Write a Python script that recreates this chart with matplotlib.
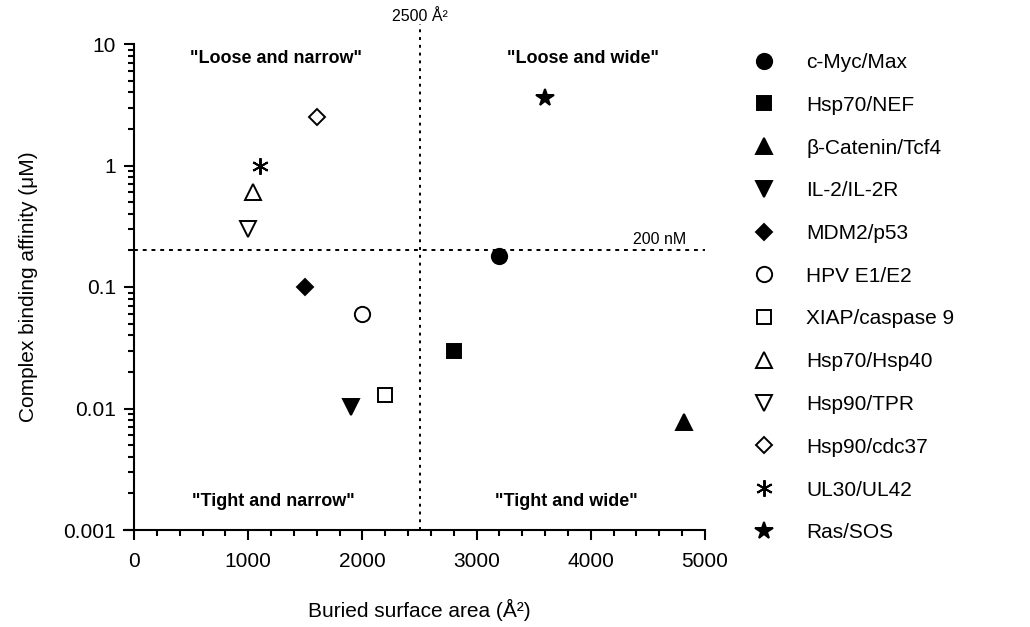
import matplotlib
matplotlib.use("Agg")
import matplotlib.pyplot as plt
from matplotlib.ticker import FixedLocator, FixedFormatter, LogLocator, MultipleLocator, NullFormatter

plt.rcParams['font.family'] = ['Liberation Sans', 'DejaVu Sans']

complexes = ["c-Myc/Max", "Hsp70/NEF", "β-Catenin/Tcf4", "IL-2/IL-2R", "MDM2/p53",
             "HPV E1/E2", "XIAP/caspase 9", "Hsp70/Hsp40", "Hsp90/TPR",
             "Hsp90/cdc37", "UL30/UL42", "Ras/SOS"]
surface_area = [3200, 2800, 4820, 1900, 1500, 2000, 2200, 1040, 1000, 1600, 1100, 3600]
affinity = [0.18, 0.03, 0.0078, 0.0102, 0.1, 0.06, 0.013, 0.6, 0.3, 2.5, 1.0, 3.6]

area_cutoff = 2500
affinity_cutoff = 0.2
y_ticks = [0.001, 0.01, 0.1, 1, 10]
y_tick_labels = ["0.001", "0.01", "0.1", "1", "10"]
quadrants = ['"Loose and narrow"', '"Loose and wide"', '"Tight and narrow"', '"Tight and wide"']

# marker style per complex: (marker, size, filled)
styles = [("o", 11, True), ("s", 10, True), ("^", 11, True), ("v", 11, True),
          ("D", 8.5, True), ("o", 11, False), ("s", 10, False), ("^", 11, False),
          ("v", 11, False), ("D", 8.5, False), ((6, 2, 0), 12, True), ("*", 13, True)]

fig = plt.figure(figsize=(10.3, 6.27), dpi=100)
ax = fig.add_axes([134 / 1030, 1 - 530 / 627, 571 / 1030, 486 / 627])

for name, x, y, (m, ms, filled) in zip(complexes, surface_area, affinity, styles):
    ax.plot([x], [y], linestyle="none", marker=m, markersize=ms,
            markerfacecolor="black" if filled else "white",
            markeredgecolor="black", markeredgewidth=1.4, label=name,
            clip_on=False, zorder=3)

ax.set_yscale("log")
ax.set_xlim(0, 5000)
ax.set_ylim(0.001, 10)

# threshold lines
ax.plot([area_cutoff, area_cutoff], [0.001, 14.5], linestyle=(0, (1.5, 2.5)),
        color="black", linewidth=1.4, clip_on=False)
ax.plot([0, 5000], [affinity_cutoff, affinity_cutoff], linestyle=(0, (2, 2.5)),
        color="black", linewidth=1.4)
ax.text(area_cutoff, 14.6, "2500 Å²", ha="center", va="bottom", fontsize=11.5)
ax.text(4600, affinity_cutoff * 1.06, "200 nM", ha="center", va="bottom", fontsize=11.5)

ax.text(0.249, 0.971, quadrants[0], transform=ax.transAxes, ha="center", va="center",
        fontsize=13, fontweight="bold")
ax.text(0.786, 0.971, quadrants[1], transform=ax.transAxes, ha="center", va="center",
        fontsize=13, fontweight="bold")
ax.text(0.244, 0.058, quadrants[2], transform=ax.transAxes, ha="center", va="center",
        fontsize=13, fontweight="bold")
ax.text(0.758, 0.058, quadrants[3], transform=ax.transAxes, ha="center", va="center",
        fontsize=13, fontweight="bold")

ax.spines["top"].set_visible(False)
ax.spines["right"].set_visible(False)
for s in ("left", "bottom"):
    ax.spines[s].set_linewidth(1.5)
# x axis runs a little past the y axis, like in the original
ax.plot([-0.018, 0], [0, 0], transform=ax.transAxes, color="black",
        linewidth=1.5, clip_on=False)

ax.xaxis.set_major_locator(MultipleLocator(1000))
ax.xaxis.set_minor_locator(MultipleLocator(200))
ax.yaxis.set_major_locator(FixedLocator(y_ticks))
ax.yaxis.set_major_formatter(FixedFormatter(y_tick_labels))
ax.yaxis.set_minor_locator(LogLocator(base=10, subs=range(2, 10)))
ax.yaxis.set_minor_formatter(NullFormatter())
ax.tick_params(which="major", direction="out", length=7, width=1.5, labelsize=15, pad=6)
ax.tick_params(axis="x", which="major", pad=9)
ax.tick_params(which="minor", direction="out", length=4, width=1.5)

ax.set_xlabel("Buried surface area (Å²)", fontsize=15, labelpad=20)
ax.set_ylabel("Complex binding affinity (μM)", fontsize=15, labelpad=18)

ax.legend(loc="upper left", bbox_to_anchor=(754 / 1030, 1 - 53 / 627),
          bbox_transform=fig.transFigure, frameon=False, fontsize=15,
          handlelength=1.0, handletextpad=1.5, labelspacing=1.14,
          borderaxespad=0, borderpad=0)

fig.savefig("out.png", dpi=100)
